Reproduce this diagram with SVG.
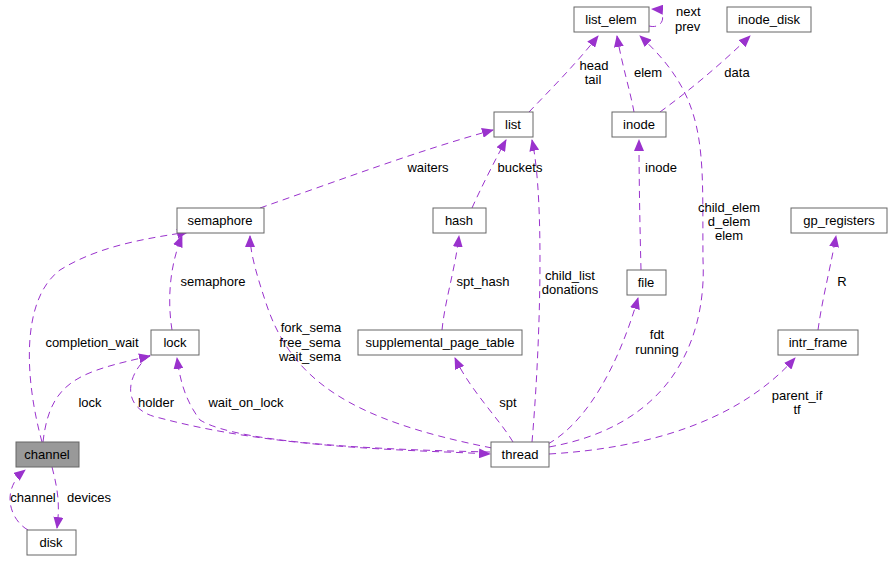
<svg xmlns="http://www.w3.org/2000/svg" width="893" height="561" viewBox="0 0 893 561">
<style>
.n rect{fill:#fff;stroke:#666;stroke-width:1}
text{font-family:"Liberation Sans",Arial,sans-serif;font-size:13px;fill:#000}
.n text{text-anchor:middle}
.e path{fill:none;stroke:#9a32cd;stroke-width:1;stroke-dasharray:7,5}
.l{text-anchor:middle}
</style>
<defs><marker id="a" markerWidth="12" markerHeight="10" refX="11" refY="5" orient="auto" markerUnits="userSpaceOnUse"><path d="M0,0 L12,5 L0,10 Z" fill="#9a32cd"/></marker></defs>
<rect width="893" height="561" fill="#fff"/>
<g class="e" id="edges">
<path d="M649,26 C665,30 668,10 652,9" marker-end="url(#a)"/>
<path d="M529,112 C550,90 575,65 598,36" marker-end="url(#a)"/>
<path d="M634,112 C630,90 622,65 617,36" marker-end="url(#a)"/>
<path d="M660,112 C690,90 720,65 750,36" marker-end="url(#a)"/>
<path d="M549,447 C700,420 705,300 703,260 C702,150 710,100 640,36" marker-end="url(#a)"/>
<path d="M260,208 C340,180 420,150 493,130" marker-end="url(#a)"/>
<path d="M472,208 C480,190 495,160 506,140" marker-end="url(#a)"/>
<path d="M532,442 C540,350 545,200 532,140" marker-end="url(#a)"/>
<path d="M641,270 C640,230 639,180 639,140" marker-end="url(#a)"/>
<path d="M442,330 C445,300 455,270 459,236" marker-end="url(#a)"/>
<path d="M172,330 C168,305 168,270 182,236" marker-end="url(#a)"/>
<path d="M42,442 C25,380 20,300 60,270 C100,245 150,238 188,232" marker-end="url(#a)"/>
<path d="M43,442 C50,380 80,372 150,356" marker-end="url(#a)"/>
<path d="M150,355 C125,375 120,410 160,418 C280,450 420,450 490,454" marker-end="url(#a)"/>
<path d="M490,452 C400,450 240,445 200,420 C185,400 180,380 177,358" marker-end="url(#a)"/>
<path d="M492,448 C350,420 290,380 265,300 C255,270 250,250 250,236" marker-end="url(#a)"/>
<path d="M513,442 C500,420 470,390 455,358" marker-end="url(#a)"/>
<path d="M548,444 C590,420 620,360 638,298" marker-end="url(#a)"/>
<path d="M549,454 C650,448 740,420 795,358" marker-end="url(#a)"/>
<path d="M818,330 C822,300 830,270 836,236" marker-end="url(#a)"/>
<path d="M28,530 C10,520 0,490 25,470" marker-end="url(#a)"/>
<path d="M52,467 C58,490 60,505 57,528" marker-end="url(#a)"/>
</g>
<g id="labels">
<text x="676" y="16">next</text><text x="675" y="31">prev</text>
<text x="594" y="70" class="l">head</text><text x="593" y="84" class="l">tail</text>
<text x="648" y="77" class="l">elem</text>
<text x="737" y="77" class="l">data</text>
<text x="428" y="172" class="l">waiters</text>
<text x="520" y="172" class="l">buckets</text>
<text x="661" y="172" class="l">inode</text>
<text x="729" y="212" class="l">child_elem</text><text x="729" y="226" class="l">d_elem</text><text x="729" y="240" class="l">elem</text>
<text x="570" y="280" class="l">child_list</text><text x="570" y="294" class="l">donations</text>
<text x="483" y="286" class="l">spt_hash</text>
<text x="213" y="286" class="l">semaphore</text>
<text x="842" y="286" class="l">R</text>
<text x="92" y="347" class="l">completion_wait</text>
<text x="311" y="332" class="l">fork_sema</text><text x="310" y="347" class="l">free_sema</text><text x="310" y="361" class="l">wait_sema</text>
<text x="657" y="339" class="l">fdt</text><text x="657" y="354" class="l">running</text>
<text x="90" y="407" class="l">lock</text>
<text x="156" y="407" class="l">holder</text>
<text x="246" y="407" class="l">wait_on_lock</text>
<text x="508" y="407" class="l">spt</text>
<text x="797" y="400" class="l">parent_if</text><text x="797" y="414" class="l">tf</text>
<text x="33" y="502" class="l">channel</text>
<text x="89" y="502" class="l">devices</text>
</g>
<g class="n" id="list_elem"><rect x="574" y="7" width="75" height="25"/><text x="611" y="24">list_elem</text></g>
<g class="n" id="inode_disk"><rect x="727" y="7" width="84" height="25"/><text x="769" y="24">inode_disk</text></g>
<g class="n" id="list"><rect x="494" y="112" width="39" height="25"/><text x="513" y="129">list</text></g>
<g class="n" id="inode"><rect x="612" y="112" width="54" height="25"/><text x="639" y="129">inode</text></g>
<g class="n" id="semaphore"><rect x="177" y="208" width="87" height="25"/><text x="220" y="225">semaphore</text></g>
<g class="n" id="hash"><rect x="433" y="208" width="53" height="25"/><text x="459" y="225">hash</text></g>
<g class="n" id="gp_registers"><rect x="791" y="208" width="96" height="25"/><text x="839" y="225">gp_registers</text></g>
<g class="n" id="file"><rect x="627" y="270" width="39" height="25"/><text x="646" y="287">file</text></g>
<g class="n" id="lock"><rect x="151" y="330" width="48" height="25"/><text x="175" y="347">lock</text></g>
<g class="n" id="supplemental_page_table"><rect x="358" y="330" width="164" height="25"/><text x="440" y="347">supplemental_page_table</text></g>
<g class="n" id="intr_frame"><rect x="778" y="330" width="80" height="25"/><text x="818" y="347">intr_frame</text></g>
<g class="n" id="channel"><rect x="16" y="442" width="63" height="25" style="fill:#999"/><text x="47" y="459">channel</text></g>
<g class="n" id="thread"><rect x="491" y="442" width="58" height="25"/><text x="520" y="459">thread</text></g>
<g class="n" id="disk"><rect x="27" y="530" width="49" height="25"/><text x="51" y="547">disk</text></g>
</svg>
